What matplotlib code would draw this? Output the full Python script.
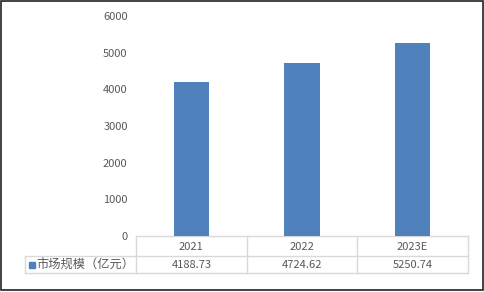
import matplotlib
matplotlib.use("Agg")
import matplotlib.pyplot as plt
from matplotlib.patches import Rectangle
from matplotlib.transforms import blended_transform_factory

categories = ["2021", "2022", "2023E"]
values = [4188.73, 4724.62, 5250.74]
value_labels = ["4188.73", "4724.62", "5250.74"]
series_name = "市场规模（亿元）"
yticks = [0, 1000, 2000, 3000, 4000, 5000, 6000]

plt.rcParams['font.family'] = ['Noto Sans CJK SC', 'DejaVu Sans']
W, H = 484, 292
fig = plt.figure(figsize=(W / 100, H / 100), dpi=100)

# overlay in pixel coordinates
ov = fig.add_axes([0, 0, 1, 1])
ov.set_xlim(0, W)
ov.set_ylim(H, 0)
ov.axis('off')

L, R, T, B = 136, 468, 16, 236
ax = fig.add_axes([L / W, (H - B) / H, (R - L) / W, (B - T) / H])
x = list(range(len(categories)))
ax.bar(x, values, width=0.32, color='#4F81BD', zorder=3)
ax.set_xlim(-0.5, len(categories) - 0.5)
ax.set_ylim(0, 6000)
ax.set_yticks(yticks)
ax.set_yticklabels([str(v) for v in yticks], color='#595959', fontsize=8)
ax.tick_params(axis='y', length=0, pad=6)
ax.set_xticks([])
for s in ax.spines.values():
    s.set_visible(False)
ax.patch.set_alpha(0)

grid = '#D9D9D9'
tr = blended_transform_factory(ax.transData, ov.transData)
r1, r2, r3 = 236, 256, 273
# horizontal table lines
ov.plot([L, R], [r1, r1], color=grid, lw=1)
ov.plot([25, R], [r2, r2], color=grid, lw=1)
ov.plot([25, R], [r3, r3], color=grid, lw=1)
ov.plot([25, 25], [r2, r3], color=grid, lw=1)
for b in [-0.5 + i for i in range(len(categories) + 1)]:
    ax.plot([b, b], [r1, r3], color=grid, lw=1, transform=tr, clip_on=False)
for i, (c, v) in enumerate(zip(categories, value_labels)):
    ax.text(i, (r1 + r2) / 2 + 0.5, c, transform=tr, ha='center', va='center',
            fontsize=8, color='#595959')
    ax.text(i, (r2 + r3) / 2 + 0.5, v, transform=tr, ha='center', va='center',
            fontsize=8, color='#595959')

ov.add_patch(Rectangle((29, 262), 6, 6, color='#4F81BD'))
ov.text(36, (r2 + r3) / 2 + 0.5, series_name, ha='left', va='center',
        fontsize=8.8, color='#595959')

# outer frame
ov.add_patch(Rectangle((0.75, 0.75), W - 2, H - 2.5, fill=False,
                       edgecolor='#222222', lw=1.2))

fig.savefig('out.png', dpi=100)
